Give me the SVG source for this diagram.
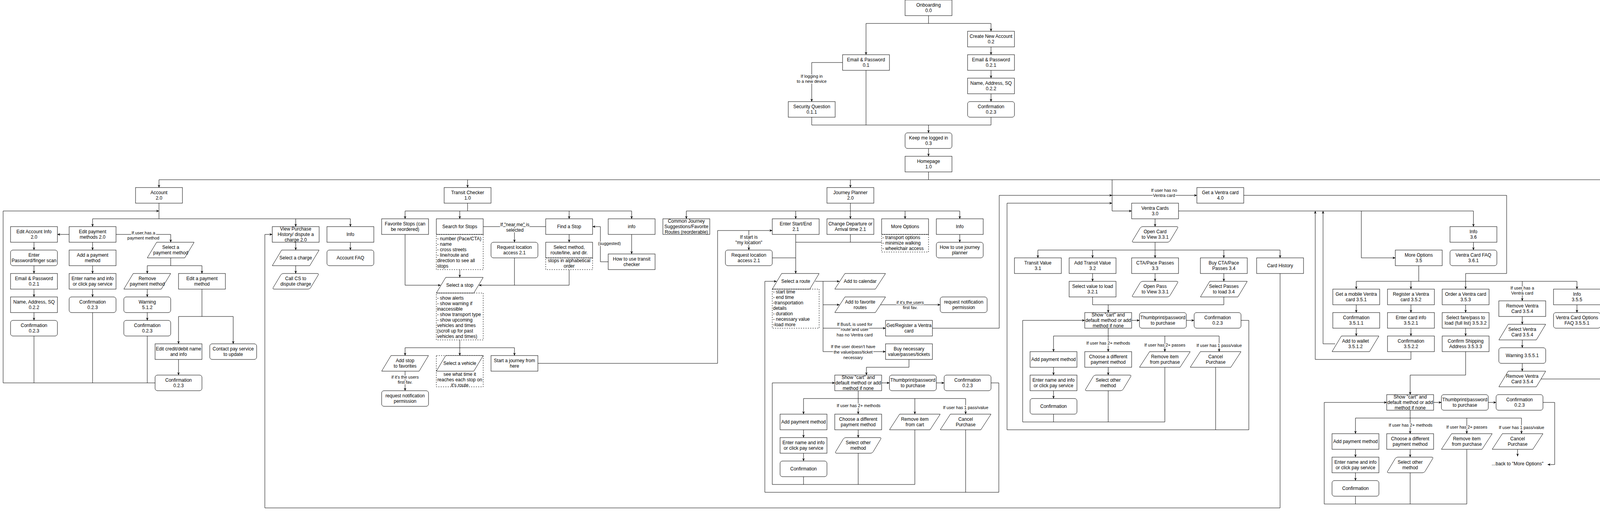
<svg xmlns="http://www.w3.org/2000/svg" width="5550" height="1313" viewBox="0 0 5550 1313">
<style>
.b,.r,.p{fill:#fff;stroke:#000;stroke-width:1}
.d{fill:none;stroke:#000;stroke-width:1;stroke-dasharray:3 3}
.t{font-family:"Liberation Sans",Arial,Helvetica,sans-serif;font-size:12px;text-anchor:middle;fill:#000}
.tl{font-family:"Liberation Sans",Arial,Helvetica,sans-serif;font-size:12px;text-anchor:start;fill:#000}
.lb{font-family:"Liberation Sans",Arial,Helvetica,sans-serif;font-size:11px;text-anchor:middle;fill:#000;stroke:#fff;stroke-width:4;paint-order:stroke;stroke-linejoin:round}
.lb12{font-family:"Liberation Sans",Arial,Helvetica,sans-serif;font-size:12px;text-anchor:middle;fill:#000;stroke:#fff;stroke-width:4;paint-order:stroke;stroke-linejoin:round}
.e{fill:none;stroke:#000;stroke-width:1}
.a{fill:none;stroke:#000;stroke-width:1;marker-end:url(#ah)}
</style>
<defs>
<marker id="ah" viewBox="0 0 10 10" refX="10" refY="5" markerWidth="7" markerHeight="7" markerUnits="userSpaceOnUse" orient="auto"><path d="M0,0.5 L10,5 L0,9.5 L3,5 z" fill="#000"/></marker>
</defs>
<rect x="0" y="0" width="5550" height="1313" fill="#fff"/>

<g id="connectors">
<path class="a" d="M2377 40 V60 H2217 V140"/>
<path class="a" d="M2377 60 H2537 V80"/>
<path class="a" d="M2537 120 V140"/>
<path class="a" d="M2537 180 V200"/>
<path class="a" d="M2537 240 V260"/>
<path class="a" d="M2157 160 H2078 V260"/>
<path class="e" d="M2078 300 V320 H2537 V300"/>
<path class="e" d="M2217 180 V320"/>
<path class="a" d="M2377 320 V340"/>
<path class="a" d="M2377 380 V400"/>
<path class="e" d="M2377 440 V460 M407 460 H5111"/>
<path class="a" d="M407 460 V480"/>
<path class="a" d="M1197 460 V480"/>
<path class="a" d="M2177 460 V480"/>
<path class="a" d="M5111 460 V480"/>
<path class="e" d="M407 520 V560 M237 560 H897"/>
<path class="a" d="M237 560 V580"/>
<path class="a" d="M757 560 V580"/>
<path class="a" d="M897 560 V580"/>
<path class="a" d="M177 600 H147"/>
<path class="a" d="M297 600 H437 V620"/>
<path class="a" d="M87 620 V640"/>
<path class="a" d="M87 680 V700"/>
<path class="a" d="M87 740 V760"/>
<path class="a" d="M87 800 V820"/>
<path class="e" d="M87 860 V980"/>
<path class="a" d="M237 620 V640"/>
<path class="a" d="M237 680 V700"/>
<path class="a" d="M237 740 V760"/>
<path class="e" d="M237 800 V980"/>
<path class="e" d="M437 660 V680 M377 680 H517"/>
<path class="a" d="M377 680 V700"/>
<path class="a" d="M517 680 V700"/>
<path class="a" d="M377 740 V760"/>
<path class="a" d="M377 800 V820"/>
<path class="e" d="M377 860 V980"/>
<path class="e" d="M517 740 V810 M457 810 H597"/>
<path class="a" d="M457 810 V880"/>
<path class="a" d="M597 810 V880"/>
<path class="a" d="M457 920 V960"/>
<path class="a" d="M397 980 H8 V540 H407"/>
<path class="a" d="M757 620 V640"/>
<path class="a" d="M757 680 V700"/>
<path class="a" d="M897 620 V640"/>
<path class="a" d="M3277 700 V1300 H678 V600 H697"/>
<path class="e" d="M1197 520 V540 M1037 540 H1617"/>
<path class="a" d="M1037 540 V560"/>
<path class="a" d="M1177 540 V560"/>
<path class="a" d="M1457 540 V560"/>
<path class="a" d="M1617 540 V560"/>
<path class="a" d="M1177 690 V710"/>
<path class="e" d="M1237 580 H1397"/>
<path class="a" d="M1317 580 V620"/>
<path class="a" d="M1317 660 V730 H1226"/>
<path class="e" d="M1457 690 V730 H1317"/>
<path class="a" d="M1037 600 V730 H1128"/>
<path class="a" d="M1457 600 V620"/>
<path class="a" d="M1617 600 V650"/>
<path class="a" d="M1557 670 H1537 V580 H1517"/>
<path class="e" d="M1177 870 V890 M1037 890 H1317"/>
<path class="a" d="M1037 890 V910"/>
<path class="a" d="M1177 890 V910"/>
<path class="a" d="M1317 890 V910"/>
<path class="a" d="M1037 950 V1000"/>
<path class="a" d="M1377 930 H1837 V590 H1977"/>
<path class="a" d="M1917 590 V640"/>
<path class="e" d="M2177 520 V540 M1757 540 H2457"/>
<path class="a" d="M1757 540 V560"/>
<path class="a" d="M2037 540 V560"/>
<path class="a" d="M2177 540 V560"/>
<path class="a" d="M2317 540 V560"/>
<path class="a" d="M2457 540 V560"/>
<path class="e" d="M1976 660 H2037"/>
<path class="a" d="M2037 600 V700"/>
<path class="e" d="M2177 600 V620 M2037 620 H2257"/>
<path class="a" d="M2457 600 V620"/>
<path class="e" d="M2087 720 H2107 V900"/>
<path class="a" d="M2107 720 H2149"/>
<path class="a" d="M2107 780 H2149"/>
<path class="a" d="M2107 840 H2267"/>
<path class="a" d="M2107 900 H2267"/>
<path class="a" d="M2254 780 H2407"/>
<path class="a" d="M2387 840 H2558 V500 H2847"/>
<path class="a" d="M2327 920 V940 H2218 V960"/>
<path class="a" d="M2537 980 H2557 V1260 H1958 V720 H1988"/>
<path class="e" d="M2472 1100 V1260"/>
<path class="a" d="M2257 980 H2277"/>
<path class="a" d="M2397 980 H2417"/>
<path class="e" d="M2197 1000 V1020 M2057 1020 H2472"/>
<path class="a" d="M2057 1020 V1060"/>
<path class="a" d="M2197 1020 V1060"/>
<path class="a" d="M2342 1020 V1060"/>
<path class="a" d="M2472 1020 V1060"/>
<path class="a" d="M2057 1100 V1120"/>
<path class="a" d="M2057 1160 V1180"/>
<path class="a" d="M2197 1100 V1120"/>
<path class="e" d="M2057 1220 V1240 M2197 1160 V1240"/>
<path class="a" d="M2342 1100 V1240 H1977 V980 H2137"/>
<path class="a" d="M2847 460 V540 H2897"/>
<path class="a" d="M2847 500 H3064"/>
<path class="a" d="M2578 1100 V520 H2847"/>
<path class="a" d="M2957 560 V580"/>
<path class="e" d="M2957 620 V640 M2657 640 H3277"/>
<path class="a" d="M2657 640 V660"/>
<path class="a" d="M2797 640 V660"/>
<path class="a" d="M2957 640 V660"/>
<path class="a" d="M3133 640 V660"/>
<path class="a" d="M3277 640 V660"/>
<path class="a" d="M2797 700 V720"/>
<path class="a" d="M2957 700 V720"/>
<path class="a" d="M3133 700 V720"/>
<path class="e" d="M2797 760 V780 H3133 V760"/>
<path class="a" d="M2837 780 V800"/>
<path class="a" d="M2897 820 H2917"/>
<path class="a" d="M3037 820 H3057"/>
<path class="e" d="M3177 820 H3197 V1100 H2578"/>
<path class="a" d="M2618 1080 V820 H2777"/>
<path class="e" d="M2837 840 V860 M2697 860 H3121"/>
<path class="a" d="M2697 860 V900"/>
<path class="a" d="M2837 860 V900"/>
<path class="a" d="M2982 860 V900"/>
<path class="a" d="M3121 860 V900"/>
<path class="a" d="M2697 940 V960"/>
<path class="a" d="M2697 1000 V1020"/>
<path class="a" d="M2837 940 V960"/>
<path class="e" d="M2618 1080 H2982 V940 M2697 1060 V1080 M2837 1000 V1080"/>
<path class="e" d="M3112 940 V1100"/>
<path class="a" d="M3184 500 H3857 V700 H3752 V740"/>
<path class="a" d="M3017 540 H3772 V580"/>
<path class="a" d="M3485 540 V660 H3572"/>
<path class="a" d="M3612 900 V920 H3367 V540"/>
<path class="a" d="M3418 880 H3387 V540"/>
<path class="a" d="M3772 620 V640"/>
<path class="e" d="M3632 680 V720 M3472 720 H4037"/>
<path class="a" d="M3472 720 V740"/>
<path class="a" d="M3612 720 V740"/>
<path class="a" d="M4037 720 V740"/>
<path class="a" d="M3897 720 V770"/>
<path class="a" d="M3472 780 V800"/>
<path class="a" d="M3472 840 V860"/>
<path class="a" d="M3612 780 V800"/>
<path class="a" d="M3612 840 V860"/>
<path class="a" d="M3752 780 V800"/>
<path class="a" d="M3752 840 V860"/>
<path class="a" d="M3897 810 V830"/>
<path class="a" d="M3897 870 V890"/>
<path class="a" d="M3897 930 V950"/>
<path class="a" d="M4037 780 V800"/>
<path class="a" d="M3945 970 H4117 V460"/>
<path class="a" d="M3752 900 V960 H3610 V1010"/>
<path class="a" d="M3670 1030 H3690"/>
<path class="a" d="M3810 1030 H3830"/>
<path class="a" d="M3950 1030 H3980 V1189 H3962"/>
<path class="e" d="M3610 1050 V1070 M3470 1070 H3895"/>
<path class="a" d="M3470 1070 V1110"/>
<path class="a" d="M3610 1070 V1110"/>
<path class="a" d="M3755 1070 V1110"/>
<path class="a" d="M3895 1070 V1110"/>
<path class="a" d="M3470 1150 V1170"/>
<path class="a" d="M3470 1210 V1230"/>
<path class="a" d="M3610 1150 V1170"/>
<path class="e" d="M3470 1270 V1290 M3610 1210 V1290"/>
<path class="a" d="M3755 1150 V1290 H3390 V1030 H3550"/>
<path class="a" d="M3885 1150 V1168"/>
<path class="a" d="M4274 460 V499 H4428 V500"/>
<path class="a" d="M4274 480 H4646 V700 H4488"/>
<path class="a" d="M4140 1120 V520 H4368"/>
<path class="e" d="M4232 820 H4140"/>
<path class="e" d="M4865 960 V1120 H4140"/>
<path class="e" d="M4428 540 V560 M4292 560 H4567"/>
<path class="a" d="M4292 560 V580"/>
<path class="a" d="M4567 560 V580"/>
<path class="a" d="M4428 560 V680"/>
<path class="a" d="M4292 620 V640 H4217 V660"/>
<path class="a" d="M4292 640 V800"/>
<path class="a" d="M4217 700 V720"/>
<path class="e" d="M4217 760 V780 H4292"/>
<path class="a" d="M4567 620 V640"/>
<path class="a" d="M4428 720 V740"/>
<path class="a" d="M4428 780 V800 H4590 V820"/>
<path class="a" d="M4650 840 H4670"/>
<path class="a" d="M4790 840 H4810"/>
<path class="e" d="M4870 820 V460"/>
<path class="e" d="M4590 860 V880 M4450 880 H4875"/>
<path class="a" d="M4450 880 V920"/>
<path class="a" d="M4590 880 V920"/>
<path class="a" d="M4735 880 V920"/>
<path class="a" d="M4875 880 V920"/>
<path class="a" d="M4450 960 V980"/>
<path class="a" d="M4450 1020 V1040"/>
<path class="a" d="M4590 960 V980"/>
<path class="e" d="M4450 1080 V1100 M4590 1020 V1100"/>
<path class="a" d="M4735 960 V1100 H4371 V840 H4530"/>
<path class="a" d="M5111 520 V540"/>
<path class="a" d="M5112 580 V590 H5168 V600"/>
<path class="a" d="M5228 620 H5248"/>
<path class="a" d="M5368 620 H5388"/>
<path class="a" d="M5508 620 H5538 V778 H5520"/>
<path class="e" d="M5168 640 V660 M5028 660 H5452"/>
<path class="a" d="M5028 660 V700"/>
<path class="a" d="M5168 660 V700"/>
<path class="a" d="M5312 660 V700"/>
<path class="a" d="M5452 660 V700"/>
<path class="a" d="M5028 740 V760"/>
<path class="a" d="M5028 800 V820"/>
<path class="a" d="M5168 740 V760"/>
<path class="e" d="M5028 860 V880 M5168 800 V880"/>
<path class="a" d="M5312 740 V880 H4949 V620 H5108"/>
<path class="a" d="M5443 740 V758"/>
<text class="lb"><tspan x="2078" y="199">If logging in</tspan><tspan x="2078" y="212">to a new device</tspan></text>
<text class="lb"><tspan x="367" y="600">If user has a</tspan><tspan x="367" y="613">payment method</tspan></text>
<text class="lb12"><tspan x="1318" y="579">If "near me" is</tspan><tspan x="1318" y="593">selected</tspan></text>
<text class="lb" x="1560" y="627">(suggested)</text>
<text class="lb12"><tspan x="1917" y="611">If start is</tspan><tspan x="1917" y="625">"my location"</tspan></text>
<text class="lb"><tspan x="1037" y="969">if it's the users</tspan><tspan x="1037" y="982">first fav.</tspan></text>
<text class="lb"><tspan x="2330" y="778">if it's the users</tspan><tspan x="2330" y="791">first fav.</tspan></text>
<text class="lb"><tspan x="2188" y="834">If Bus/L is used for</tspan><tspan x="2188" y="847">route and user</tspan><tspan x="2188" y="861">has no Ventra card</tspan></text>
<text class="lb"><tspan x="2184" y="891">If the user doesn't have</tspan><tspan x="2184" y="905">the value/pass/ticket</tspan><tspan x="2184" y="919">necessary</tspan></text>
<text class="lb"><tspan x="2980" y="491">If user has no</tspan><tspan x="2980" y="504">Ventra card</tspan></text>
<text class="lb" x="2198" y="1042">If user has 2+ methods</text>
<text class="lb" x="2472" y="1047">If user has 1 pass/value</text>
<text class="lb" x="2837" y="882">If user has 2+ methods</text>
<text class="lb" x="2982" y="887">If user has 2+ passes</text>
<text class="lb" x="3121" y="888">If user has 1 pass/value</text>
<text class="lb"><tspan x="3897" y="741">If user has a</tspan><tspan x="3897" y="754">Ventra card</tspan></text>
<text class="lb" x="3611" y="1092">If user has 2+ methods</text>
<text class="lb" x="3755" y="1097">If user has 2+ passes</text>
<text class="lb" x="3895" y="1098">If user has 1 pass/value</text>
<text class="lb" x="4425" y="488">If user has no Metra Tickets</text>
<text class="lb"><tspan x="4255" y="641">If ready</tspan><tspan x="4255" y="654">to use</tspan></text>
<text class="lb" x="4590" y="902">If user has 2+ methods</text>
<text class="lb" x="4735" y="907">If user has 2+ tickets</text>
<text class="lb" x="4875" y="908">If user has 1 ticket</text>
<text class="lb" x="5168" y="682">If user has 2+ methods</text>
<text class="lb" x="5312" y="687">If user has 2+ passes</text>
<text class="lb" x="5452" y="688">If user has 1 pass/value</text>
</g>

<g id="onboarding"><rect class="b" x="2317" y="0" width="120" height="40"/><text class="t"><tspan x="2377" y="17">Onboarding</tspan><tspan x="2377" y="31">0.0</tspan></text></g>
<g id="email-password-0-1"><rect class="b" x="2157" y="140" width="120" height="40"/><text class="t"><tspan x="2217" y="157">Email &amp; Password</tspan><tspan x="2217" y="171">0.1</tspan></text></g>
<g id="security-question"><rect class="b" x="2018" y="260" width="120" height="40"/><text class="t"><tspan x="2078" y="277">Security Question</tspan><tspan x="2078" y="291">0.1.1</tspan></text></g>
<g id="create-new-account"><rect class="b" x="2477" y="80" width="120" height="40"/><text class="t"><tspan x="2537" y="97">Create New Account</tspan><tspan x="2537" y="111">0.2</tspan></text></g>
<g id="email-password-0-2-1"><rect class="b" x="2477" y="140" width="120" height="40"/><text class="t"><tspan x="2537" y="157">Email &amp; Password</tspan><tspan x="2537" y="171">0.2.1</tspan></text></g>
<g id="name-address-0-2-2"><rect class="b" x="2477" y="200" width="120" height="40"/><text class="t"><tspan x="2537" y="217">Name, Address, SQ</tspan><tspan x="2537" y="231">0.2.2</tspan></text></g>
<g id="confirmation-0-2-3"><rect class="r" x="2477" y="260" width="120" height="40" rx="6"/><text class="t"><tspan x="2537" y="277">Confirmation</tspan><tspan x="2537" y="291">0.2.3</tspan></text></g>
<g id="keep-logged-in"><rect class="r" x="2317" y="340" width="120" height="40" rx="6"/><text class="t"><tspan x="2377" y="357">Keep me logged in</tspan><tspan x="2377" y="371">0.3</tspan></text></g>
<g id="homepage"><rect class="b" x="2317" y="400" width="120" height="40"/><text class="t"><tspan x="2377" y="417">Homepage</tspan><tspan x="2377" y="431">1.0</tspan></text></g>

<g id="account"><rect class="b" x="347" y="480" width="120" height="40"/><text class="t"><tspan x="407" y="497">Account</tspan><tspan x="407" y="511">2.0</tspan></text></g>
<g id="edit-account-info"><rect class="b" x="27" y="580" width="120" height="40"/><text class="t"><tspan x="87" y="597">Edit Account Info</tspan><tspan x="87" y="611">2.0</tspan></text></g>
<g id="edit-payment-methods"><rect class="b" x="177" y="580" width="120" height="40"/><text class="t"><tspan x="237" y="597">Edit payment</tspan><tspan x="237" y="611">methods 2.0</tspan></text></g>
<g id="select-payment-method"><polygon class="p" points="401,620 497,620 473,660 377,660"/><text class="t"><tspan x="437" y="637">Select a</tspan><tspan x="437" y="651">payment method</tspan></text></g>
<g id="enter-password"><rect class="r" x="27" y="640" width="120" height="40" rx="6"/><text class="t"><tspan x="87" y="657">Enter</tspan><tspan x="87" y="671">Password/finger scan</tspan></text></g>
<g id="acc-email-password"><rect class="b" x="27" y="700" width="120" height="40"/><text class="t"><tspan x="87" y="717">Email &amp; Password</tspan><tspan x="87" y="731">0.2.1</tspan></text></g>
<g id="acc-name-address"><rect class="b" x="27" y="760" width="120" height="40"/><text class="t"><tspan x="87" y="777">Name, Address, SQ</tspan><tspan x="87" y="791">0.2.2</tspan></text></g>
<g id="acc-confirmation-1"><rect class="r" x="27" y="820" width="120" height="40" rx="6"/><text class="t"><tspan x="87" y="837">Confirmation</tspan><tspan x="87" y="851">0.2.3</tspan></text></g>
<g id="add-payment-method-acc"><rect class="b" x="177" y="640" width="120" height="40"/><text class="t"><tspan x="237" y="657">Add a payment</tspan><tspan x="237" y="671">method</tspan></text></g>
<g id="enter-name-acc"><rect class="b" x="177" y="700" width="120" height="40"/><text class="t"><tspan x="237" y="717">Enter name and info</tspan><tspan x="237" y="731">or click pay service</tspan></text></g>
<g id="acc-confirmation-2"><rect class="r" x="177" y="760" width="120" height="40" rx="6"/><text class="t"><tspan x="237" y="777">Confirmation</tspan><tspan x="237" y="791">0.2.3</tspan></text></g>
<g id="remove-payment-method"><polygon class="p" points="341,700 437,700 413,740 317,740"/><text class="t"><tspan x="377" y="717">Remove</tspan><tspan x="377" y="731">payment method</tspan></text></g>
<g id="acc-warning"><rect class="r" x="317" y="760" width="120" height="40" rx="6"/><text class="t"><tspan x="377" y="777">Warning</tspan><tspan x="377" y="791">5.1.2</tspan></text></g>
<g id="acc-confirmation-3"><rect class="r" x="317" y="820" width="120" height="40" rx="6"/><text class="t"><tspan x="377" y="837">Confirmation</tspan><tspan x="377" y="851">0.2.3</tspan></text></g>
<g id="edit-a-payment-method"><rect class="b" x="457" y="700" width="120" height="40"/><text class="t"><tspan x="517" y="717">Edit a payment</tspan><tspan x="517" y="731">method</tspan></text></g>
<g id="edit-credit-debit"><rect class="b" x="397" y="880" width="120" height="40"/><text class="t"><tspan x="457" y="897">Edit credit/debit name</tspan><tspan x="457" y="911">and info</tspan></text></g>
<g id="contact-pay-service"><rect class="r" x="537" y="880" width="120" height="40" rx="6"/><text class="t"><tspan x="597" y="897">Contact pay service</tspan><tspan x="597" y="911">to update</tspan></text></g>
<g id="acc-confirmation-4"><rect class="r" x="397" y="960" width="120" height="40" rx="6"/><text class="t"><tspan x="457" y="977">Confirmation</tspan><tspan x="457" y="991">0.2.3</tspan></text></g>
<g id="view-purchase-history"><rect class="b" x="697" y="580" width="120" height="40"/><text class="t"><tspan x="757" y="590">View Purchase</tspan><tspan x="757" y="604">History/ dispute a</tspan><tspan x="757" y="618">charge 2.0</tspan></text></g>
<g id="select-a-charge"><polygon class="p" points="721,640 817,640 793,680 697,680"/><text class="t" x="757" y="664">Select a charge</text></g>
<g id="call-cs"><path class="p" d="M726,700 h86 q5,0 2.4,4.3 l-18.8,31.4 q-2.6,4.3 -7.6,4.3 h-86 q-5,0 -2.4,-4.3 l18.8,-31.4 q2.6,-4.3 7.6,-4.3 z"/><text class="t"><tspan x="757" y="717">Call CS to</tspan><tspan x="757" y="731">dispute charge</tspan></text></g>
<g id="account-info"><rect class="b" x="837" y="580" width="120" height="40"/><text class="t" x="897" y="604">Info</text></g>
<g id="account-faq"><rect class="r" x="837" y="640" width="120" height="40" rx="6"/><text class="t" x="897" y="664">Account FAQ</text></g>

<g id="transit-checker"><rect class="b" x="1137" y="480" width="120" height="40"/><text class="t"><tspan x="1197" y="497">Transit Checker</tspan><tspan x="1197" y="511">1.0</tspan></text></g>
<g id="favorite-stops"><rect class="b" x="977" y="560" width="120" height="40"/><text class="t"><tspan x="1037" y="577">Favorite Stops (can</tspan><tspan x="1037" y="591">be reordered)</tspan></text></g>
<g id="search-for-stops"><rect class="b" x="1117" y="560" width="120" height="40"/><text class="t" x="1177" y="584">Search for Stops</text>
<rect class="d" x="1117" y="600" width="120" height="90"/><text class="tl"><tspan x="1119" y="615">- number (Pace/CTA)</tspan><tspan x="1119" y="629">- name</tspan><tspan x="1119" y="643">- cross streets</tspan><tspan x="1119" y="657">- line/route and</tspan><tspan x="1119" y="671">direction to see all</tspan><tspan x="1119" y="685">stops</tspan></text></g>
<g id="request-location-tc"><rect class="r" x="1257" y="620" width="120" height="40" rx="6"/><text class="t"><tspan x="1317" y="637">Request location</tspan><tspan x="1317" y="651">access 2.1</tspan></text></g>
<g id="find-a-stop"><rect class="b" x="1397" y="560" width="120" height="40"/><text class="t" x="1457" y="584">Find a Stop</text></g>
<g id="tc-info"><rect class="b" x="1557" y="560" width="120" height="40"/><text class="t" x="1617" y="584">info</text></g>
<g id="select-method-route"><rect class="b" x="1397" y="620" width="120" height="40"/><text class="t"><tspan x="1457" y="637">Select method,</tspan><tspan x="1457" y="651">route/line, and dir.</tspan></text>
<rect class="d" x="1397" y="660" width="120" height="30"/><text class="t"><tspan x="1457" y="671">stops in alphabetical</tspan><tspan x="1457" y="685">order</tspan></text></g>
<g id="how-to-use-transit-checker"><rect class="b" x="1557" y="650" width="120" height="40"/><text class="t"><tspan x="1617" y="667">How to use transit</tspan><tspan x="1617" y="681">checker</tspan></text></g>
<g id="select-a-stop"><polygon class="p" points="1141,710 1237,710 1213,750 1117,750"/><text class="t" x="1177" y="734">Select a stop</text>
<rect class="d" x="1117" y="750" width="120" height="120"/><text class="tl"><tspan x="1119" y="767">- show alerts</tspan><tspan x="1119" y="781">- show warning if</tspan><tspan x="1119" y="795">inaccessible</tspan><tspan x="1119" y="809">- show transport type</tspan><tspan x="1119" y="823">- show upcoming</tspan><tspan x="1119" y="837">vehicles and times</tspan><tspan x="1119" y="851">(scroll up for past</tspan><tspan x="1119" y="865">vehicles and times)</tspan></text></g>
<g id="add-stop-favorites"><polygon class="p" points="1001,910 1097,910 1073,950 977,950"/><text class="t"><tspan x="1037" y="927">Add stop</tspan><tspan x="1037" y="941">to favorites</tspan></text></g>
<g id="request-notification-tc"><rect class="r" x="977" y="1000" width="120" height="40" rx="6"/><text class="t"><tspan x="1037" y="1017">request notification</tspan><tspan x="1037" y="1031">permission</tspan></text></g>
<g id="select-a-vehicle"><rect class="d" x="1117" y="910" width="120" height="80"/><polygon class="p" points="1141,910 1237,910 1213,950 1117,950"/><text class="t" x="1177" y="934">Select a vehicle</text><text class="t"><tspan x="1177" y="962">see what time it</tspan><tspan x="1177" y="976">reaches each stop on</tspan><tspan x="1177" y="990">it's route</tspan></text></g>
<g id="start-journey-here"><rect class="b" x="1257" y="910" width="120" height="40"/><text class="t"><tspan x="1317" y="927">Start a journey from</tspan><tspan x="1317" y="941">here</tspan></text></g>

<g id="journey-planner"><rect class="b" x="2117" y="480" width="120" height="40"/><text class="t"><tspan x="2177" y="497">Journey Planner</tspan><tspan x="2177" y="511">2.0</tspan></text></g>
<g id="common-journey"><rect class="b" x="1697" y="560" width="120" height="40"/><text class="t"><tspan x="1757" y="570">Common Journey</tspan><tspan x="1757" y="584">Suggestions/Favorite</tspan><tspan x="1757" y="598">Routes (reorderable)</tspan></text></g>
<g id="enter-start-end"><rect class="b" x="1977" y="560" width="120" height="40"/><text class="t"><tspan x="2037" y="577">Enter Start/End</tspan><tspan x="2037" y="591">2.1</tspan></text></g>
<g id="change-departure"><rect class="b" x="2117" y="560" width="120" height="40"/><text class="t"><tspan x="2177" y="577">Change Departure or</tspan><tspan x="2177" y="591">Arrival time 2.1</tspan></text></g>
<g id="jp-more-options"><rect class="b" x="2257" y="560" width="120" height="40"/><text class="t" x="2317" y="584">More Options</text>
<rect class="d" x="2257" y="600" width="120" height="45"/><text class="tl"><tspan x="2259" y="612">- transport options</tspan><tspan x="2259" y="626">- minimize walking</tspan><tspan x="2259" y="640">- wheelchair access</tspan></text></g>
<g id="jp-info"><rect class="b" x="2397" y="560" width="120" height="40"/><text class="t" x="2457" y="584">Info</text></g>
<g id="how-to-use-jp"><rect class="r" x="2397" y="620" width="120" height="40" rx="6"/><text class="t"><tspan x="2457" y="637">How to use journey</tspan><tspan x="2457" y="651">planner</tspan></text></g>
<g id="request-location-jp"><rect class="r" x="1857" y="640" width="120" height="40" rx="6"/><text class="t"><tspan x="1917" y="657">Request location</tspan><tspan x="1917" y="671">access 2.1</tspan></text></g>
<g id="select-a-route"><polygon class="p" points="2001,700 2097,700 2073,740 1977,740"/><text class="t" x="2037" y="724">Select a route</text>
<rect class="d" x="1977" y="740" width="120" height="100"/><text class="tl"><tspan x="1979" y="751">- start time</tspan><tspan x="1979" y="765">- end time</tspan><tspan x="1979" y="779">-transportation</tspan><tspan x="1979" y="793">details</tspan><tspan x="1979" y="807">- duration</tspan><tspan x="1979" y="821">- necessary value</tspan><tspan x="1979" y="835">-load more</tspan></text></g>
<g id="add-to-calendar"><polygon class="p" points="2163,700 2267,700 2241,740 2137,740"/><text class="t" x="2202" y="724">Add to calendar</text></g>
<g id="add-favorite-routes"><polygon class="p" points="2163,760 2267,760 2241,800 2137,800"/><text class="t"><tspan x="2202" y="777">Add to favorite</tspan><tspan x="2202" y="791">routes</tspan></text></g>
<g id="request-notification-jp"><rect class="r" x="2407" y="760" width="120" height="40" rx="6"/><text class="t"><tspan x="2467" y="777">request notification</tspan><tspan x="2467" y="791">permission</tspan></text></g>
<g id="get-register-ventra"><rect class="b" x="2267" y="820" width="120" height="40"/><text class="t"><tspan x="2327" y="837">Get/Register a Ventra</tspan><tspan x="2327" y="851">card</tspan></text></g>
<g id="buy-necessary"><rect class="b" x="2267" y="880" width="120" height="40"/><text class="t"><tspan x="2327" y="897">Buy necessary</tspan><tspan x="2327" y="911">value/passes/tickets</tspan></text></g>
<g id="jp-show-cart"><rect class="b" x="2137" y="960" width="120" height="40"/><text class="t"><tspan x="2197" y="970">Show "cart" and</tspan><tspan x="2197" y="984">default method or add</tspan><tspan x="2197" y="998">method if none</tspan></text></g>
<g id="jp-thumbprint"><rect class="r" x="2277" y="960" width="120" height="40" rx="6"/><text class="t"><tspan x="2337" y="977">Thumbprint/password</tspan><tspan x="2337" y="991">to purchase</tspan></text></g>
<g id="jp-confirmation"><rect class="r" x="2417" y="960" width="120" height="40" rx="6"/><text class="t"><tspan x="2477" y="977">Confirmation</tspan><tspan x="2477" y="991">0.2.3</tspan></text></g>
<g id="jp-add-payment"><rect class="b" x="1997" y="1060" width="120" height="40"/><text class="t" x="2057" y="1084">Add payment method</text></g>
<g id="jp-choose-different"><rect class="b" x="2137" y="1060" width="120" height="40"/><text class="t"><tspan x="2197" y="1077">Choose a different</tspan><tspan x="2197" y="1091">payment method</tspan></text></g>
<g id="jp-remove-item"><polygon class="p" points="2303,1060 2407,1060 2381,1100 2277,1100"/><text class="t"><tspan x="2342" y="1077">Remove item</tspan><tspan x="2342" y="1091">from cart</tspan></text></g>
<g id="jp-cancel"><polygon class="p" points="2433,1060 2537,1060 2511,1100 2407,1100"/><text class="t"><tspan x="2472" y="1077">Cancel</tspan><tspan x="2472" y="1091">Purchase</tspan></text></g>
<g id="jp-enter-name"><rect class="b" x="1997" y="1120" width="120" height="40"/><text class="t"><tspan x="2057" y="1137">Enter name and info</tspan><tspan x="2057" y="1151">or click pay service</tspan></text></g>
<g id="jp-select-other"><path class="p" d="M2166,1120 h86 q5,0 2.4,4.3 l-18.8,31.4 q-2.6,4.3 -7.6,4.3 h-86 q-5,0 -2.4,-4.3 l18.8,-31.4 q2.6,-4.3 7.6,-4.3 z"/><text class="t"><tspan x="2197" y="1137">Select other</tspan><tspan x="2197" y="1151">method</tspan></text></g>
<g id="jp-confirmation-2"><rect class="r" x="1997" y="1180" width="120" height="40" rx="6"/><text class="t" x="2057" y="1204">Confirmation</text></g>

<g id="ventra-cards"><rect class="b" x="2897" y="520" width="120" height="40"/><text class="t"><tspan x="2957" y="537">Ventra Cards</tspan><tspan x="2957" y="551">3.0</tspan></text></g>
<g id="get-ventra-card"><rect class="b" x="3064" y="480" width="120" height="40"/><text class="t"><tspan x="3124" y="497">Get a Ventra card</tspan><tspan x="3124" y="511">4.0</tspan></text></g>
<g id="open-card"><path class="p" d="M2926,580 h86 q5,0 2.4,4.3 l-18.8,31.4 q-2.6,4.3 -7.6,4.3 h-86 q-5,0 -2.4,-4.3 l18.8,-31.4 q2.6,-4.3 7.6,-4.3 z"/><text class="t"><tspan x="2957" y="597">Open Card</tspan><tspan x="2957" y="611">to View  3.3.1</tspan></text></g>
<g id="transit-value"><rect class="b" x="2597" y="660" width="120" height="40"/><text class="t"><tspan x="2657" y="677">Transit Value</tspan><tspan x="2657" y="691">3.1</tspan></text></g>
<g id="add-transit-value"><rect class="b" x="2737" y="660" width="120" height="40"/><text class="t"><tspan x="2797" y="677">Add Transit Value</tspan><tspan x="2797" y="691">3.2</tspan></text></g>
<g id="cta-pace-passes"><rect class="b" x="2897" y="660" width="120" height="40"/><text class="t"><tspan x="2957" y="677">CTA/Pace Passes</tspan><tspan x="2957" y="691">3.3</tspan></text></g>
<g id="buy-cta-pace"><rect class="b" x="3073" y="660" width="120" height="40"/><text class="t"><tspan x="3133" y="677">Buy CTA/Pace</tspan><tspan x="3133" y="691">Passes 3.4</tspan></text></g>
<g id="card-history"><rect class="b" x="3217" y="660" width="120" height="40"/><text class="t" x="3277" y="684">Card History</text></g>
<g id="select-value"><rect class="b" x="2737" y="720" width="120" height="40"/><text class="t"><tspan x="2797" y="737">Select value to load</tspan><tspan x="2797" y="751">3.2.1</tspan></text></g>
<g id="open-pass"><path class="p" d="M2926,720 h86 q5,0 2.4,4.3 l-18.8,31.4 q-2.6,4.3 -7.6,4.3 h-86 q-5,0 -2.4,-4.3 l18.8,-31.4 q2.6,-4.3 7.6,-4.3 z"/><text class="t"><tspan x="2957" y="737">Open Pass</tspan><tspan x="2957" y="751">to View  3.3.1</tspan></text></g>
<g id="select-passes"><polygon class="p" points="3097,720 3193,720 3169,760 3073,760"/><text class="t"><tspan x="3133" y="737">Select Passes</tspan><tspan x="3133" y="751">to load 3.4</tspan></text></g>
<g id="v-show-cart"><rect class="b" x="2777" y="800" width="120" height="40"/><text class="t"><tspan x="2837" y="810">Show "cart" and</tspan><tspan x="2837" y="824">default method or add</tspan><tspan x="2837" y="838">method if none</tspan></text></g>
<g id="v-thumbprint"><rect class="r" x="2917" y="800" width="120" height="40" rx="6"/><text class="t"><tspan x="2977" y="817">Thumbprint/password</tspan><tspan x="2977" y="831">to purchase</tspan></text></g>
<g id="v-confirmation"><rect class="r" x="3057" y="800" width="120" height="40" rx="6"/><text class="t"><tspan x="3117" y="817">Confirmation</tspan><tspan x="3117" y="831">0.2.3</tspan></text></g>
<g id="v-add-payment"><rect class="b" x="2637" y="900" width="120" height="40"/><text class="t" x="2697" y="924">Add payment method</text></g>
<g id="v-choose-different"><rect class="b" x="2777" y="900" width="120" height="40"/><text class="t"><tspan x="2837" y="917">Choose a different</tspan><tspan x="2837" y="931">payment method</tspan></text></g>
<g id="v-remove-item"><polygon class="p" points="2943,900 3047,900 3021,940 2917,940"/><text class="t"><tspan x="2982" y="917">Remove item</tspan><tspan x="2982" y="931">from purchase</tspan></text></g>
<g id="v-cancel"><polygon class="p" points="3073,900 3177,900 3151,940 3047,940"/><text class="t"><tspan x="3112" y="917">Cancel</tspan><tspan x="3112" y="931">Purchase</tspan></text></g>
<g id="v-enter-name"><rect class="b" x="2637" y="960" width="120" height="40"/><text class="t"><tspan x="2697" y="977">Enter name and info</tspan><tspan x="2697" y="991">or click pay service</tspan></text></g>
<g id="v-select-other"><path class="p" d="M2806,960 h86 q5,0 2.4,4.3 l-18.8,31.4 q-2.6,4.3 -7.6,4.3 h-86 q-5,0 -2.4,-4.3 l18.8,-31.4 q2.6,-4.3 7.6,-4.3 z"/><text class="t"><tspan x="2837" y="977">Select other</tspan><tspan x="2837" y="991">method</tspan></text></g>
<g id="v-confirmation-2"><rect class="r" x="2637" y="1020" width="120" height="40" rx="6"/><text class="t" x="2697" y="1044">Confirmation</text></g>
<g id="info-3-6"><rect class="b" x="3712" y="580" width="120" height="40"/><text class="t"><tspan x="3772" y="597">Info</tspan><tspan x="3772" y="611">3.6</tspan></text></g>
<g id="ventra-faq"><rect class="r" x="3712" y="640" width="120" height="40" rx="6"/><text class="t"><tspan x="3772" y="657">Ventra Card FAQ</tspan><tspan x="3772" y="671">3.6.1</tspan></text></g>
<g id="more-options-3-5"><rect class="b" x="3572" y="640" width="120" height="40"/><text class="t"><tspan x="3632" y="657">More Options</tspan><tspan x="3632" y="671">3.5</tspan></text></g>
<g id="get-mobile-ventra"><rect class="b" x="3412" y="740" width="120" height="40"/><text class="t"><tspan x="3472" y="757">Get a mobile Ventra</tspan><tspan x="3472" y="771">card 3.5.1</tspan></text></g>
<g id="register-ventra"><rect class="b" x="3552" y="740" width="120" height="40"/><text class="t"><tspan x="3612" y="757">Register a Ventra</tspan><tspan x="3612" y="771">card 3.5.2</tspan></text></g>
<g id="order-ventra"><rect class="b" x="3692" y="740" width="120" height="40"/><text class="t"><tspan x="3752" y="757">Order a Ventra card</tspan><tspan x="3752" y="771">3.5.3</tspan></text></g>
<g id="remove-ventra-card"><rect class="b" x="3837" y="770" width="120" height="40"/><text class="t"><tspan x="3897" y="787">Remove Ventra</tspan><tspan x="3897" y="801">Card 3.5.4</tspan></text></g>
<g id="info-3-5-5"><rect class="b" x="3977" y="740" width="120" height="40"/><text class="t"><tspan x="4037" y="757">Info</tspan><tspan x="4037" y="771">3.5.5</tspan></text></g>
<g id="confirmation-3-5-1-1"><rect class="b" x="3412" y="800" width="120" height="40"/><text class="t"><tspan x="3472" y="817">Confirmation</tspan><tspan x="3472" y="831">3.5.1.1</tspan></text></g>
<g id="enter-card-info"><rect class="b" x="3552" y="800" width="120" height="40"/><text class="t"><tspan x="3612" y="817">Enter card info</tspan><tspan x="3612" y="831">3.5.2.1</tspan></text></g>
<g id="select-fare-pass"><rect class="b" x="3692" y="800" width="120" height="40"/><text class="t"><tspan x="3752" y="817">Select fare/pass to</tspan><tspan x="3752" y="831">load (full list) 3.5.3.2</tspan></text></g>
<g id="select-ventra-card"><polygon class="p" points="3861,830 3957,830 3933,870 3837,870"/><text class="t"><tspan x="3897" y="847">Select Ventra</tspan><tspan x="3897" y="861">Card 3.5.4</tspan></text></g>
<g id="ventra-options-faq"><rect class="r" x="3977" y="800" width="120" height="40" rx="6"/><text class="t"><tspan x="4037" y="817">Ventra Card Options</tspan><tspan x="4037" y="831">FAQ 3.5.5.1</tspan></text></g>
<g id="add-to-wallet"><polygon class="p" points="3434,860 3530,860 3506,900 3410,900"/><text class="t"><tspan x="3470" y="877">Add to wallet</tspan><tspan x="3470" y="891">3.5.1.2</tspan></text></g>
<g id="confirmation-3-5-2-2"><rect class="b" x="3552" y="860" width="120" height="40"/><text class="t"><tspan x="3612" y="877">Confirmation</tspan><tspan x="3612" y="891">3.5.2.2</tspan></text></g>
<g id="confirm-shipping"><rect class="b" x="3692" y="860" width="120" height="40"/><text class="t"><tspan x="3752" y="877">Confirm Shipping</tspan><tspan x="3752" y="891">Address 3.5.3.3</tspan></text></g>
<g id="warning-3-5-5-1"><rect class="r" x="3837" y="890" width="120" height="40" rx="6"/><text class="t" x="3897" y="914">Warning 3.5.5.1</text></g>
<g id="remove-ventra-card-2"><polygon class="p" points="3861,950 3957,950 3933,990 3837,990"/><text class="t"><tspan x="3897" y="967">Remove Ventra</tspan><tspan x="3897" y="981">Card 3.5.4</tspan></text></g>
<g id="v2-show-cart"><rect class="b" x="3550" y="1010" width="120" height="40"/><text class="t"><tspan x="3610" y="1020">Show "cart" and</tspan><tspan x="3610" y="1034">default method or add</tspan><tspan x="3610" y="1048">method if none</tspan></text></g>
<g id="v2-thumbprint"><rect class="r" x="3690" y="1010" width="120" height="40" rx="6"/><text class="t"><tspan x="3750" y="1027">Thumbprint/password</tspan><tspan x="3750" y="1041">to purchase</tspan></text></g>
<g id="v2-confirmation"><rect class="r" x="3830" y="1010" width="120" height="40" rx="6"/><text class="t"><tspan x="3890" y="1027">Confirmation</tspan><tspan x="3890" y="1041">0.2.3</tspan></text></g>
<g id="v2-add-payment"><rect class="b" x="3410" y="1110" width="120" height="40"/><text class="t" x="3470" y="1134">Add payment method</text></g>
<g id="v2-choose-different"><rect class="b" x="3550" y="1110" width="120" height="40"/><text class="t"><tspan x="3610" y="1127">Choose a different</tspan><tspan x="3610" y="1141">payment method</tspan></text></g>
<g id="v2-remove-item"><polygon class="p" points="3716,1110 3820,1110 3794,1150 3690,1150"/><text class="t"><tspan x="3755" y="1127">Remove item</tspan><tspan x="3755" y="1141">from purchase</tspan></text></g>
<g id="v2-cancel"><polygon class="p" points="3846,1110 3950,1110 3924,1150 3820,1150"/><text class="t"><tspan x="3885" y="1127">Cancel</tspan><tspan x="3885" y="1141">Purchase</tspan></text></g>
<g id="v2-enter-name"><rect class="b" x="3410" y="1170" width="120" height="40"/><text class="t"><tspan x="3470" y="1187">Enter name and info</tspan><tspan x="3470" y="1201">or click pay service</tspan></text></g>
<g id="v2-select-other"><path class="p" d="M3579,1170 h86 q5,0 2.4,4.3 l-18.8,31.4 q-2.6,4.3 -7.6,4.3 h-86 q-5,0 -2.4,-4.3 l18.8,-31.4 q2.6,-4.3 7.6,-4.3 z"/><text class="t"><tspan x="3610" y="1187">Select other</tspan><tspan x="3610" y="1201">method</tspan></text></g>
<g id="v2-confirmation-2"><rect class="r" x="3410" y="1230" width="120" height="40" rx="6"/><text class="t" x="3470" y="1254">Confirmation</text></g>
<g id="v2-back"><text class="t" x="3885" y="1191">...back to "More Options"</text></g>

<g id="metra-tickets"><rect class="b" x="4368" y="500" width="120" height="40"/><text class="t"><tspan x="4428" y="517">Metra Tickets</tspan><tspan x="4428" y="531">5.0</tspan></text></g>
<g id="open-ticket"><path class="p" d="M4261,580 h86 q5,0 2.4,4.3 l-18.8,31.4 q-2.6,4.3 -7.6,4.3 h-86 q-5,0 -2.4,-4.3 l18.8,-31.4 q2.6,-4.3 7.6,-4.3 z"/><text class="t"><tspan x="4292" y="597">Open Ticket</tspan><tspan x="4292" y="611">5.1</tspan></text></g>
<g id="info-5-3"><rect class="b" x="4507" y="580" width="120" height="40"/><text class="t"><tspan x="4567" y="597">Info</tspan><tspan x="4567" y="611">5.3</tspan></text></g>
<g id="metra-faq"><rect class="r" x="4507" y="640" width="120" height="40" rx="6"/><text class="t"><tspan x="4567" y="657">Mobile Metra Tickets</tspan><tspan x="4567" y="671">FAQ 5.3.1</tspan></text></g>
<g id="activate-ticket"><rect class="b" x="4157" y="660" width="120" height="40"/><text class="t"><tspan x="4217" y="677">Activate Ticket</tspan><tspan x="4217" y="691">5.1.1</tspan></text></g>
<g id="metra-warning"><rect class="r" x="4157" y="720" width="120" height="40" rx="6"/><text class="t"><tspan x="4217" y="737">Warning</tspan><tspan x="4217" y="751">5.1.2</tspan></text></g>
<g id="close-ticket"><rect class="b" x="4232" y="800" width="120" height="40"/><text class="t"><tspan x="4292" y="817">Close Ticket</tspan><tspan x="4292" y="831">5.1.3</tspan></text></g>
<g id="buy-metra-tickets"><rect class="b" x="4368" y="680" width="120" height="40"/><text class="t"><tspan x="4428" y="697">Buy Metra Tickets</tspan><tspan x="4428" y="711">5.2</tspan></text></g>
<g id="select-tickets"><polygon class="p" points="4392,740 4488,740 4464,780 4368,780"/><text class="t"><tspan x="4428" y="757">Select ticket(s)</tspan><tspan x="4428" y="771">to buy (prev/new)</tspan></text></g>
<g id="m-show-cart"><rect class="b" x="4530" y="820" width="120" height="40"/><text class="t"><tspan x="4590" y="830">Show "cart" and</tspan><tspan x="4590" y="844">default method or add</tspan><tspan x="4590" y="858">method if none</tspan></text></g>
<g id="m-thumbprint"><rect class="r" x="4670" y="820" width="120" height="40" rx="6"/><text class="t"><tspan x="4730" y="837">Thumbprint/password</tspan><tspan x="4730" y="851">to purchase</tspan></text></g>
<g id="m-confirmation"><rect class="r" x="4810" y="820" width="120" height="40" rx="6"/><text class="t"><tspan x="4870" y="837">Confirmation</tspan><tspan x="4870" y="851">0.2.3</tspan></text></g>
<g id="m-add-payment"><rect class="b" x="4390" y="920" width="120" height="40"/><text class="t" x="4450" y="944">Add payment method</text></g>
<g id="m-choose-different"><rect class="b" x="4530" y="920" width="120" height="40"/><text class="t"><tspan x="4590" y="937">Choose a different</tspan><tspan x="4590" y="951">payment method</tspan></text></g>
<g id="m-remove-item"><polygon class="p" points="4696,920 4800,920 4774,960 4670,960"/><text class="t"><tspan x="4735" y="937">Remove item</tspan><tspan x="4735" y="951">from purchase</tspan></text></g>
<g id="m-cancel"><polygon class="p" points="4826,920 4930,920 4904,960 4800,960"/><text class="t"><tspan x="4865" y="937">Cancel</tspan><tspan x="4865" y="951">Purchase</tspan></text></g>
<g id="m-enter-name"><rect class="b" x="4390" y="980" width="120" height="40"/><text class="t"><tspan x="4450" y="997">Enter name and info</tspan><tspan x="4450" y="1011">or click pay service</tspan></text></g>
<g id="m-select-other"><path class="p" d="M4559,980 h86 q5,0 2.4,4.3 l-18.8,31.4 q-2.6,4.3 -7.6,4.3 h-86 q-5,0 -2.4,-4.3 l18.8,-31.4 q2.6,-4.3 7.6,-4.3 z"/><text class="t"><tspan x="4590" y="997">Select other</tspan><tspan x="4590" y="1011">method</tspan></text></g>
<g id="m-confirmation-2"><rect class="r" x="4390" y="1040" width="120" height="40" rx="6"/><text class="t" x="4450" y="1064">Confirmation</text></g>

<g id="transit-store"><rect class="b" x="5051" y="480" width="120" height="40"/><text class="t" x="5111" y="504">Transit Store</text></g>
<g id="select-any-passes"><polygon class="p" points="5073,540 5177,540 5151,580 5047,580"/><text class="t"><tspan x="5112" y="557">Select any</tspan><tspan x="5112" y="571">passes/tickets to buy</tspan></text></g>
<g id="ts-show-cart"><rect class="b" x="5108" y="600" width="120" height="40"/><text class="t"><tspan x="5168" y="610">Show "cart" and</tspan><tspan x="5168" y="624">default method or add</tspan><tspan x="5168" y="638">method if none</tspan></text></g>
<g id="ts-thumbprint"><rect class="r" x="5248" y="600" width="120" height="40" rx="6"/><text class="t"><tspan x="5308" y="617">Thumbprint/password</tspan><tspan x="5308" y="631">to purchase</tspan></text></g>
<g id="ts-confirmation"><rect class="r" x="5388" y="600" width="120" height="40" rx="6"/><text class="t"><tspan x="5448" y="617">Confirmation</tspan><tspan x="5448" y="631">0.2.3</tspan></text></g>
<g id="ts-add-payment"><rect class="b" x="4968" y="700" width="120" height="40"/><text class="t" x="5028" y="724">Add payment method</text></g>
<g id="ts-choose-different"><rect class="b" x="5108" y="700" width="120" height="40"/><text class="t"><tspan x="5168" y="717">Choose a different</tspan><tspan x="5168" y="731">payment method</tspan></text></g>
<g id="ts-remove-item"><polygon class="p" points="5274,700 5378,700 5352,740 5248,740"/><text class="t"><tspan x="5313" y="717">Remove item</tspan><tspan x="5313" y="731">from purchase</tspan></text></g>
<g id="ts-cancel"><polygon class="p" points="5404,700 5508,700 5482,740 5378,740"/><text class="t"><tspan x="5443" y="717">Cancel</tspan><tspan x="5443" y="731">Purchase</tspan></text></g>
<g id="ts-enter-name"><rect class="b" x="4968" y="760" width="120" height="40"/><text class="t"><tspan x="5028" y="777">Enter name and info</tspan><tspan x="5028" y="791">or click pay service</tspan></text></g>
<g id="ts-select-other"><path class="p" d="M5137,760 h86 q5,0 2.4,4.3 l-18.8,31.4 q-2.6,4.3 -7.6,4.3 h-86 q-5,0 -2.4,-4.3 l18.8,-31.4 q2.6,-4.3 7.6,-4.3 z"/><text class="t"><tspan x="5168" y="777">Select other</tspan><tspan x="5168" y="791">method</tspan></text></g>
<g id="ts-confirmation-2"><rect class="r" x="4968" y="820" width="120" height="40" rx="6"/><text class="t" x="5028" y="844">Confirmation</text></g>
<g id="ts-back"><text class="t" x="5442" y="782">...back to "More Options"</text></g>
</svg>
